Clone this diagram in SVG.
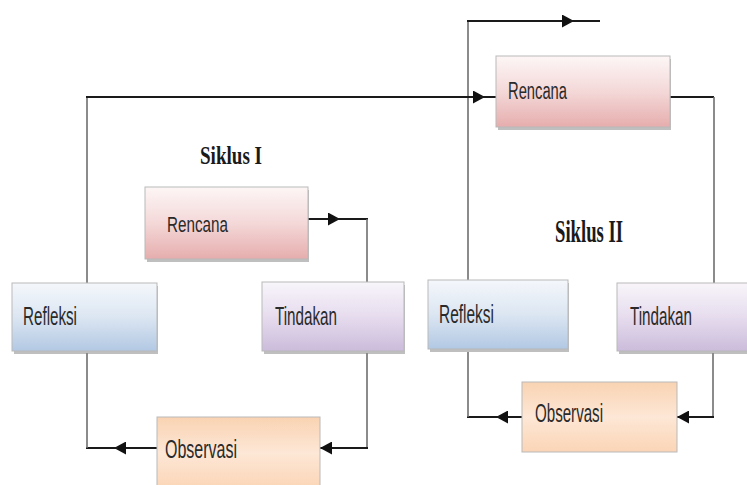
<svg xmlns="http://www.w3.org/2000/svg" width="747" height="485" viewBox="0 0 747 485">
<style>
.lbl{font-family:"Liberation Sans",Arial,sans-serif;font-size:25px;fill:#2a2a2a}
.title{font-family:"Liberation Serif","Times New Roman",serif;font-weight:bold;fill:#1a1a1a}
.h{stroke:#1a1a1a;stroke-width:2;fill:none}
.v{stroke:#6e6e6e;stroke-width:1.6;fill:none}
.box{stroke:#b9b9b9;stroke-width:1}
.shadow{fill:#8a8a8a;opacity:0.55}
</style>
<defs>
<marker id="arr" markerUnits="userSpaceOnUse" markerWidth="12" markerHeight="13" refX="12" refY="6.5" orient="auto">
<path d="M0,0 L12,6.5 L0,13 z" fill="#111"/>
</marker>
<linearGradient id="gRen" x1="0" y1="0" x2="0" y2="1">
<stop offset="0" stop-color="#fdf6f6"/><stop offset="0.5" stop-color="#f4d8d8"/><stop offset="1" stop-color="#e6adad"/>
</linearGradient>
<linearGradient id="gRef" x1="0" y1="0" x2="0" y2="1">
<stop offset="0" stop-color="#f4f7fb"/><stop offset="0.5" stop-color="#dce6f2"/><stop offset="1" stop-color="#b2c8e3"/>
</linearGradient>
<linearGradient id="gTin" x1="0" y1="0" x2="0" y2="1">
<stop offset="0" stop-color="#f8f5fa"/><stop offset="0.5" stop-color="#e6dcee"/><stop offset="1" stop-color="#cbbcdb"/>
</linearGradient>
<linearGradient id="gObs" x1="0" y1="0" x2="0" y2="1">
<stop offset="0" stop-color="#f9d3b2"/><stop offset="0.5" stop-color="#fde7d6"/><stop offset="1" stop-color="#fbd5b6"/>
</linearGradient>
</defs>
<rect width="747" height="485" fill="#ffffff"/>

<g id="connectors">
<path class="v" d="M468,280 V21"/>
<path class="h" d="M467,21 H574" marker-end="url(#arr)"/>
<path class="h" d="M570,21 H600"/>
<path class="v" d="M87,283 V97"/>
<path class="h" d="M86,97 H485" marker-end="url(#arr)"/>
<path class="h" d="M480,97 H496"/>
<path class="h" d="M670,97 H714"/>
<path class="v" d="M714,97 V283"/>
<path class="h" d="M308,219 H340" marker-end="url(#arr)"/>
<path class="h" d="M335,219 H368"/>
<path class="v" d="M367,219 V282"/>
<path class="v" d="M367,353 V448"/>
<path class="h" d="M368,448 H320" marker-end="url(#arr)"/>
<path class="h" d="M157,448 H114" marker-end="url(#arr)"/>
<path class="h" d="M118,448 H86"/>
<path class="v" d="M87,448 V353"/>
<path class="v" d="M713,353 V417"/>
<path class="h" d="M714,417 H677" marker-end="url(#arr)"/>
<path class="h" d="M522,417 H496" marker-end="url(#arr)"/>
<path class="h" d="M500,417 H467"/>
<path class="v" d="M468,417 V352"/>
</g>

<g id="rencana1">
<rect class="shadow" x="147" y="190" width="162" height="72"/>
<rect class="box" x="145" y="187" width="163" height="72" fill="url(#gRen)"/>
<text class="lbl" x="167" y="232" textLength="61" lengthAdjust="spacingAndGlyphs" style="font-size:22px">Rencana</text>
</g>

<g id="tindakan1">
<rect class="shadow" x="264" y="285" width="141" height="69"/>
<rect class="box" x="262" y="282" width="142" height="69" fill="url(#gTin)"/>
<text class="lbl" x="275" y="325" textLength="62" lengthAdjust="spacingAndGlyphs">Tindakan</text>
</g>

<g id="refleksi1">
<rect class="shadow" x="14" y="286" width="144" height="68"/>
<rect class="box" x="12" y="283" width="145" height="68" fill="url(#gRef)"/>
<text class="lbl" x="23" y="325" textLength="54" lengthAdjust="spacingAndGlyphs">Refleksi</text>
</g>

<g id="observasi1">
<rect class="box" x="157" y="417" width="163" height="72" fill="url(#gObs)"/>
<text class="lbl" x="165" y="458" textLength="72" lengthAdjust="spacingAndGlyphs">Observasi</text>
</g>

<g id="rencana2">
<rect class="shadow" x="498" y="59" width="173" height="71"/>
<rect class="box" x="496" y="56" width="174" height="71" fill="url(#gRen)"/>
<text class="lbl" x="508" y="99" textLength="59" lengthAdjust="spacingAndGlyphs" style="font-size:23px">Rencana</text>
</g>

<g id="refleksi2">
<rect class="shadow" x="430" y="283" width="139" height="69"/>
<rect class="box" x="428" y="280" width="140" height="69" fill="url(#gRef)"/>
<text class="lbl" x="439" y="323" textLength="55" lengthAdjust="spacingAndGlyphs">Refleksi</text>
</g>

<g id="tindakan2">
<rect class="shadow" x="619" y="286" width="130" height="68"/>
<rect class="box" x="617" y="283" width="132" height="68" fill="url(#gTin)"/>
<text class="lbl" x="630" y="325" textLength="62" lengthAdjust="spacingAndGlyphs">Tindakan</text>
</g>

<g id="observasi2">
<rect class="box" x="522" y="382" width="155" height="70" fill="url(#gObs)"/>
<text class="lbl" x="535" y="422" textLength="68" lengthAdjust="spacingAndGlyphs">Observasi</text>
</g>

<g id="titles">
<text class="title" x="200" y="164" textLength="62" lengthAdjust="spacingAndGlyphs" style="font-size:26px">Siklus I</text>
<text class="title" x="555" y="242" textLength="68" lengthAdjust="spacingAndGlyphs" style="font-size:32px">Siklus II</text>
</g>
</svg>
